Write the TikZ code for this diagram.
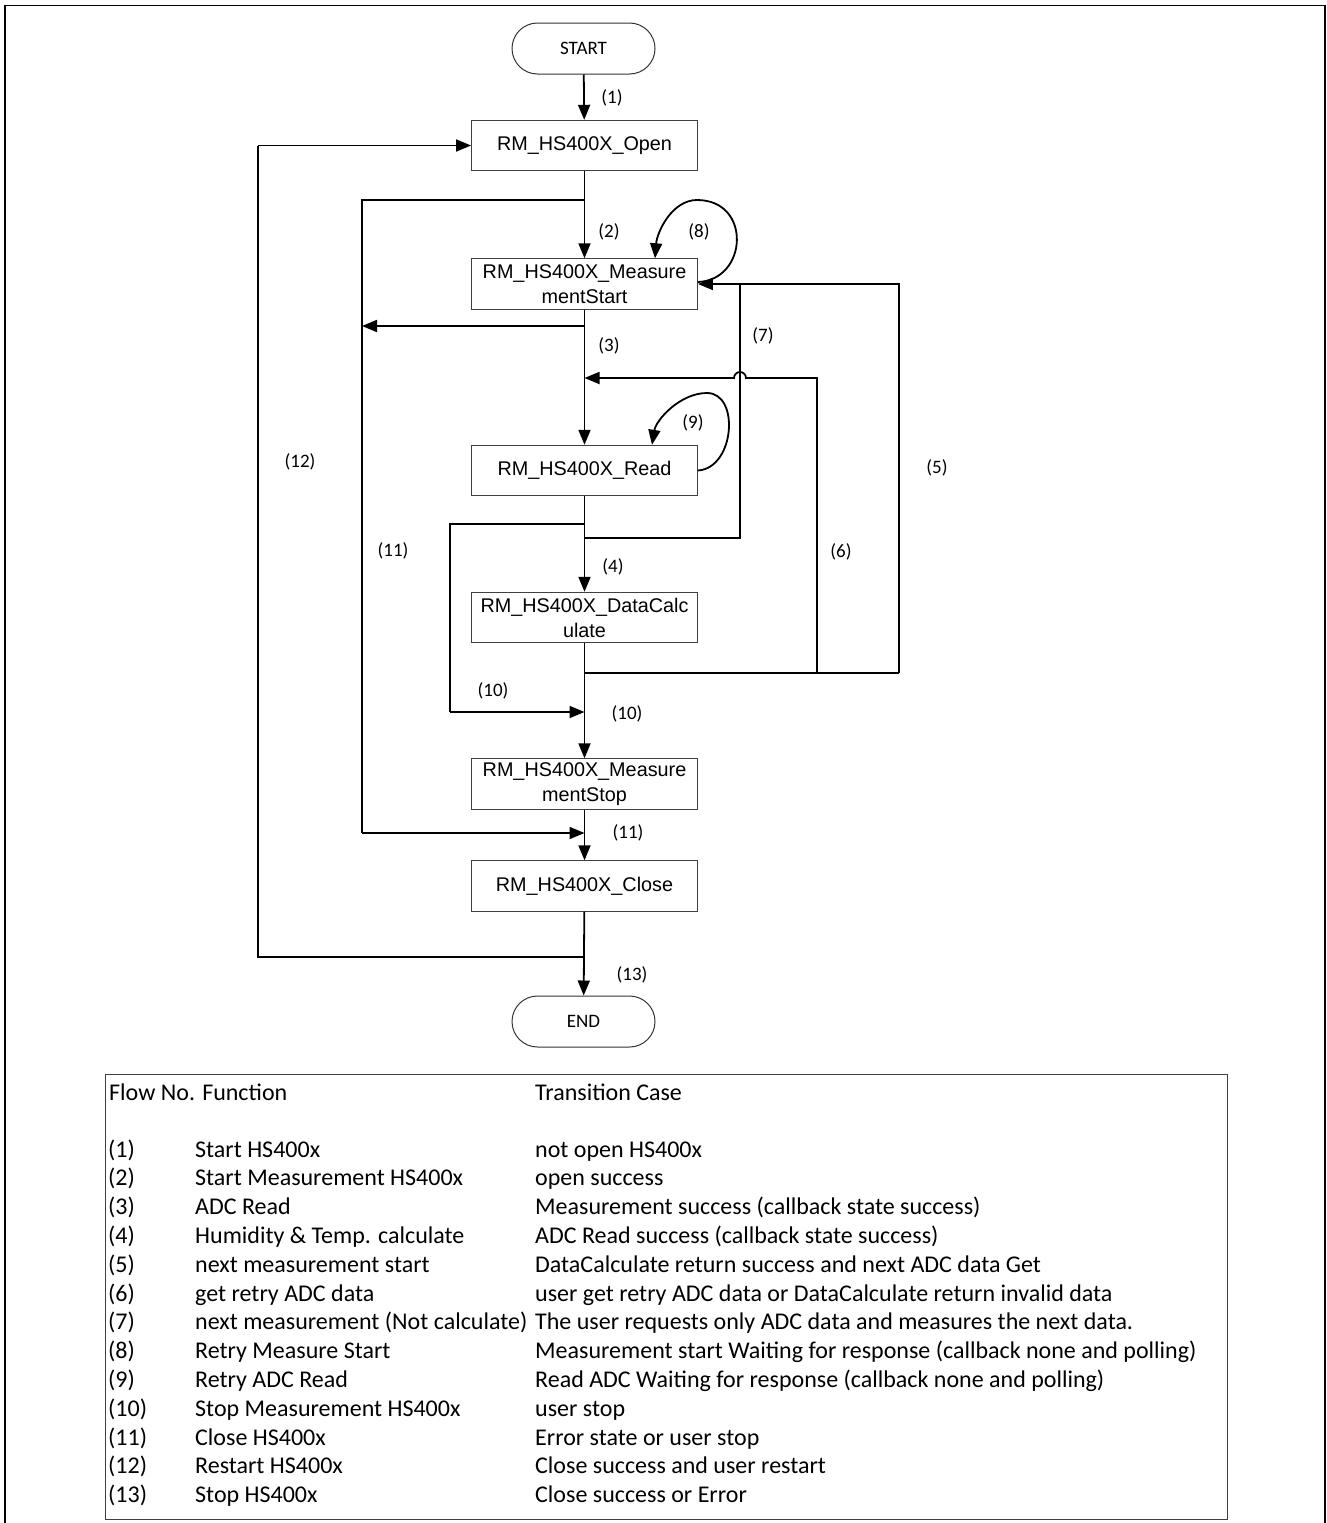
\documentclass[tikz,border=0pt]{standalone}
\usepackage{fontspec}
\newfontfamily\arialf{Liberation Sans}
\newfontfamily\calf{Carlito}
\usetikzlibrary{arrows.meta,shapes.misc,calc}
\begin{document}
\begin{tikzpicture}[x=1pt,y=-1pt,
  proc/.style={draw=black!75, line width=0.9pt, minimum width=226pt, minimum height=50.5pt, inner sep=0pt, align=center, font=\arialf\fontsize{19.8}{25}\selectfont},
  term/.style={draw=black!80, line width=1pt, rounded rectangle, minimum width=143pt, minimum height=51pt, inner sep=0pt, font=\calf\fontsize{19}{23}\selectfont},
  lbl/.style={font=\calf\fontsize{19}{23}\selectfont, inner sep=0pt},
  tbl/.style={font=\calf\fontsize{24}{29}\selectfont, inner sep=0pt, anchor=base west},
  conn/.style={line width=1.8pt, draw=black},
  arr/.style={conn, -{Triangle[length=15pt,width=12pt]}},
]
\useasboundingbox (0,0) rectangle (1326,1523);
% outer frame
\draw[line width=1.6pt] (5,1523) -- (5,5.5) -- (1325,5.5) -- (1325,1523);

% nodes
\node[term] (start) at (583.5,48.5) {START};
\node[proc] (open) at (584.5,145.5) {RM\_HS400X\_Open};
\node[proc] (ms) at (584.5,284) {RM\_HS400X\_Measure\\mentStart};
\node[proc] (rd) at (584.5,470.5) {RM\_HS400X\_Read};
\node[proc] (dc) at (584.5,617.5) {RM\_HS400X\_DataCalc\\ulate};
\node[proc] (mstop) at (584.5,784) {RM\_HS400X\_Measure\\mentStop};
\node[proc] (cl) at (584.5,886) {RM\_HS400X\_Close};
\node[term] (end) at (583.5,1021.5) {END};

% coordinates
\coordinate (a11) at (362,200);
\coordinate (b11) at (362,833);
\coordinate (m3) at (584.5,326);
\coordinate (j6) at (817,378);
\coordinate (h7) at (740,378);
\coordinate (bot) at (584.5,673);
\coordinate (b6) at (817,673);
\coordinate (b5) at (899,673);
\coordinate (t5) at (899,284);
\coordinate (t7) at (740,284);
\coordinate (j7) at (584.5,538);
\coordinate (b7) at (740,538);
\coordinate (j10) at (584.5,524);
\coordinate (l10) at (450,524);
\coordinate (d10) at (450,712);
\coordinate (a10) at (584.5,712);
\coordinate (a12) at (584.5,957);
\coordinate (l12) at (258,957);
\coordinate (t12) at (258,145.5);

% main flow
\draw[arr] (start) -- (open);
\draw[arr] (open) -- (ms);
\draw[arr] (ms) -- (rd);
\draw[arr] (rd) -- (dc);
\draw[arr] (dc) -- (mstop);
\draw[arr] (mstop) -- (cl);
\draw[arr] (cl) -- (end);

% (11) close loop
\draw[conn] (open.south |- a11) -- (a11) -- (b11);
\draw[arr] (b11) -- (b11 -| cl.north);
\draw[arr] (m3) -- (a11 |- m3);

% (6) retry ADC
\draw[conn] (bot) -- (b5);
\draw[arr] (b6) -- (j6) -- ([xshift=6pt]h7) arc[start angle=0,end angle=180,radius=6pt] -- (j6 -| rd.north);

% (5) and (7)
\draw[arr] (b5) -- (t5) -- (ms.east |- t5);
\draw[conn] (j7) -- (b7) -- (t7);

% (10) left branch
\draw[conn] (j10) -- (l10) -- (d10);
\draw[arr] (d10) -- (a10);

% (12) restart loop
\draw[conn] (a12) -- (l12) -- (t12);
\draw[arr] (t12) -- (open.west);

% self loops
\draw[arr] ([yshift=2pt]ms.east) .. controls (748,280) and (752,200) .. (697,200) .. controls (672,200) and (657,232) .. ([xshift=70.5pt]ms.north);
\draw[arr] (rd.east) .. controls (735,468) and (740,393) .. (707,393) .. controls (680,393) and (656,420) .. ([xshift=67.5pt]rd.north);

% labels
\node[lbl] (L1) at (612,98) {(1)};
\node[lbl] (L2) at (609,232) {(2)};
\node[lbl] (L8) at (699,232) {(8)};
\node[lbl] (L3) at (609,346) {(3)};
\node[lbl] (L7) at (763,336) {(7)};
\node[lbl] (L9) at (693,423) {(9)};
\node[lbl] (L5) at (937,468) {(5)};
\node[lbl] (L12) at (300,462) {(12)};
\node[lbl] (L11a) at (393,551) {(11)};
\node[lbl] (L6) at (841,552) {(6)};
\node[lbl] (L4) at (613,567) {(4)};
\node[lbl] (L10a) at (493,691) {(10)};
\node[lbl] (L10b) at (627,714) {(10)};
\node[lbl] (L11b) at (628,833) {(11)};
\node[lbl] (L13) at (632,975) {(13)};

% table
\draw[draw=black!75, line width=1pt] (105,1074) rectangle (1227,1519);
\node[tbl] (hd1) at (109,1100) {Flow No. Function};
\node[tbl] (hd2) at (535,1100) {Transition Case};
\foreach \i/\f/\t in {
  1/{Start HS400x}/{not open HS400x},
  2/{Start Measurement HS400x}/{open success},
  3/{ADC Read}/{Measurement success (callback state success)},
  4/{Humidity \& Temp. calculate}/{ADC Read success (callback state success)},
  5/{next measurement start}/{DataCalculate return success and next ADC data Get},
  6/{get retry ADC data}/{user get retry ADC data or DataCalculate return invalid data},
  7/{next measurement (Not calculate)}/{The user requests only ADC data and measures the next data.},
  8/{Retry Measure Start}/{Measurement start Waiting for response (callback none and polling)},
  9/{Retry ADC Read}/{Read ADC Waiting for response (callback none and polling)},
  10/{Stop Measurement HS400x}/{user stop},
  11/{Close HS400x}/{Error state or user stop},
  12/{Restart HS400x}/{Close success and user restart},
  13/{Stop HS400x}/{Close success or Error}}{
  \node[tbl] (n\i) at (108,{1157+28.8*(\i-1)}) {(\i)};
  \node[tbl] (f\i) at (195,{1157+28.8*(\i-1)}) {\f};
  \node[tbl] (t\i) at (535,{1157+28.8*(\i-1)}) {\t};
}
\end{tikzpicture}
\end{document}
